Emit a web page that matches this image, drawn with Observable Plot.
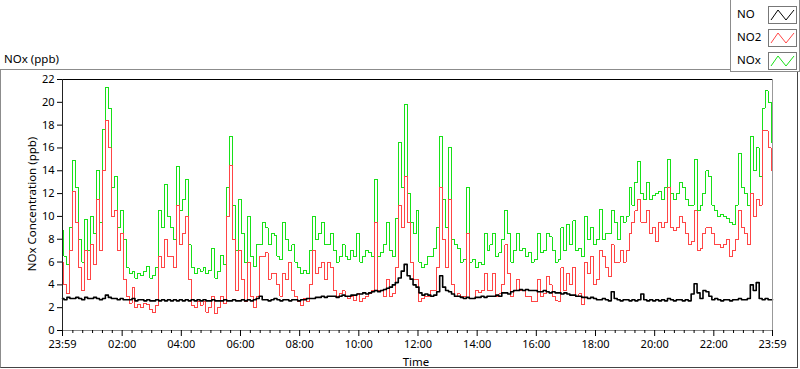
<!DOCTYPE html>
<html>
<head>
<meta charset="utf-8">
<script src="https://cdn.jsdelivr.net/npm/d3@7"></script>
<script src="https://cdn.jsdelivr.net/npm/@observablehq/plot@0.6"></script>
<style>
  body { margin: 0; background: #fff; font-family: "Noto Sans", sans-serif; color: #000; }
  #wrap { position: relative; width: 800px; height: 369px; overflow: hidden; background: #fff; }
  #frame { position: absolute; left: 0; top: 69px; width: 796px; height: 297px;
           border-top: 1px solid #8c8c8c; border-left: 1px solid #8c8c8c;
           border-right: 1px solid #444; border-bottom: 1px solid #444; }
  #chart { position: absolute; left: 0; top: 0; }
  #title { position: absolute; left: 4px; top: 51px; font-size: 11.5px; line-height: 16px; white-space: nowrap; }
  #ylab { position: absolute; left: 31px; top: 204px; font-size: 11.5px; white-space: nowrap;
          transform: translate(-50%, -50%) rotate(-90deg); }
  #xlab { position: absolute; left: 416px; top: 361px; font-size: 11.5px; white-space: nowrap;
          transform: translate(-50%, -50%); }
  #legend { position: absolute; left: 730px; top: 0; width: 68px; height: 71px; background: #fff;
            border: 1px solid #8c8c8c; border-top: none; }
  .lg { position: absolute; left: 6px; font-size: 11.5px; line-height: 14px; }
  .sw { position: absolute; left: 37px; width: 27px; height: 16px; border: 1px solid #777; background: #fff; }
  .sw svg { display: block; }
</style>
</head>
<body>
<div id="wrap">
  <div id="frame"></div>
  <div id="chart"></div>
  <div id="title">NOx (ppb)</div>
  <div id="ylab">NOx Concentration (ppb)</div>
  <div id="xlab">Time</div>
  <div id="legend"></div>
</div>
<script>
// ---- data (sampled every 6 minutes, starting 23:59 of previous day) ----
const seriesNames = ["NO", "NO2", "NOx"];
const seriesColors = ["#000000", "#ff4545", "#18e018"];

const noxValues = [
  8.8, 6.5, 5.8, 9.0, 14.9, 12.5, 8.0, 6.0, 9.7, 7.0,
  10.0, 8.5, 14.0, 9.5, 17.6, 21.3, 19.5, 12.5, 13.5, 9.0,
  10.5, 8.0, 5.5, 5.0, 5.2, 4.6, 5.0, 4.8, 5.2, 5.6,
  4.6, 4.8, 5.5, 10.5, 9.0, 12.8, 10.0, 9.0, 8.0, 14.4,
  10.5, 11.5, 13.2, 7.5, 5.5, 5.0, 5.4, 5.2, 5.5, 5.0,
  5.3, 7.2, 4.6, 5.2, 6.6, 5.8, 12.5, 17.0, 11.0, 7.0,
  11.5, 8.5, 6.0, 10.0, 6.5, 5.6, 7.5, 7.5, 9.5, 9.0,
  7.5, 8.5, 8.3, 6.5, 6.2, 9.5, 8.0, 7.0, 7.5, 6.0,
  5.5, 5.0, 5.3, 5.0, 7.0, 10.0, 8.0, 8.5, 9.5, 7.5,
  7.5, 8.5, 7.0, 6.0, 6.5, 7.5, 6.5, 6.2, 7.0, 6.5,
  8.5, 6.0, 6.5, 7.0, 6.8, 6.5, 13.2, 6.5, 6.8, 7.5,
  9.5, 7.0, 6.5, 9.8, 16.5, 12.5, 19.8, 12.0, 9.5, 8.5,
  10.5, 6.0, 5.5, 5.8, 6.5, 6.5, 7.2, 9.0, 17.0, 11.5,
  9.0, 16.0, 8.0, 7.5, 7.2, 6.0, 6.2, 12.5, 6.0, 6.2,
  5.5, 6.0, 5.8, 8.5, 7.0, 7.5, 8.5, 6.5, 6.8, 8.0,
  10.5, 8.5, 6.0, 7.0, 8.5, 7.0, 7.2, 6.5, 6.8, 6.0,
  6.2, 8.5, 6.8, 7.0, 8.5, 8.2, 7.0, 6.0, 6.2, 9.0,
  7.0, 9.3, 7.5, 9.6, 7.0, 7.2, 6.5, 10.0, 8.0, 9.0,
  7.5, 8.0, 10.6, 8.0, 8.5, 8.5, 10.5, 9.5, 8.0, 10.0,
  9.5, 10.0, 12.5, 11.0, 13.0, 14.8, 12.0, 11.5, 13.0, 11.5,
  11.8, 12.0, 12.2, 11.5, 12.5, 15.0, 12.0, 11.5, 12.0, 13.0,
  12.5, 11.5, 11.0, 11.0, 15.0, 10.5, 11.0, 12.0, 14.0, 13.5,
  11.0, 10.5, 10.0, 10.2, 10.0, 9.8, 9.5, 9.3, 11.0, 15.5,
  12.5, 12.0, 11.0, 17.0, 14.0, 16.0, 13.5, 19.5, 21.0, 20.0, 16.5
];

const no2Values = [
  6.0, 4.0, 3.2, 7.0, 12.2, 9.5, 5.5, 3.5, 7.0, 4.5,
  7.5, 5.8, 11.5, 7.0, 14.0, 18.4, 16.0, 10.0, 10.5, 7.0,
  8.5, 4.5, 3.0, 2.4, 3.8, 2.0, 2.3, 2.0, 2.4, 2.3,
  1.8, 1.6, 2.2, 6.5, 5.5, 8.0, 6.5, 6.5, 5.5, 11.0,
  7.5, 8.5, 10.0, 4.5, 2.2, 2.0, 2.5, 2.2, 2.5, 1.6,
  2.0, 3.0, 1.5, 2.0, 3.0, 2.4, 10.0, 14.5, 8.0, 3.5,
  7.0, 4.5, 2.5, 6.0, 3.0, 2.0, 3.0, 6.5, 6.5, 6.8,
  4.5, 5.0, 5.0, 4.0, 3.0, 5.0, 4.5, 6.0, 3.5, 3.0,
  2.5, 2.2, 2.8, 2.5, 4.0, 7.0, 5.0, 5.5, 6.0, 4.5,
  6.0, 5.5, 3.5, 3.0, 3.2, 3.5, 3.0, 2.8, 3.0, 2.6,
  3.2, 2.5, 2.8, 3.0, 3.2, 3.5, 9.5, 3.5, 3.5, 3.0,
  4.5, 3.0, 3.2, 5.5, 11.0, 9.0, 13.5, 9.5, 6.0, 4.5,
  4.5, 2.5, 2.8, 3.0, 3.0, 3.5, 3.5, 5.5, 12.5, 8.0,
  5.5, 11.5, 4.0, 3.0, 3.2, 3.0, 3.0, 8.5, 2.8, 2.8,
  3.5, 3.3, 3.5, 5.0, 3.5, 3.5, 5.0, 3.0, 3.2, 4.0,
  7.5, 5.0, 3.0, 3.5, 4.5, 3.5, 3.5, 3.0, 3.0, 2.5,
  2.5, 4.5, 3.0, 3.2, 4.7, 4.0, 3.0, 2.6, 2.5, 5.5,
  3.5, 5.0, 4.0, 5.5, 3.0, 3.2, 2.3, 6.0, 5.0, 6.5,
  4.0, 4.5, 7.0, 6.5, 5.5, 4.7, 7.5, 6.0, 6.0, 7.0,
  6.0, 7.0, 8.5, 9.5, 10.5, 11.5, 9.5, 9.5, 10.5, 8.5,
  9.0, 7.8, 9.5, 9.0, 9.5, 12.5, 9.0, 8.8, 9.0, 10.0,
  9.5, 8.5, 7.5, 7.8, 10.5, 7.0, 7.2, 8.5, 9.0, 9.0,
  8.5, 7.5, 7.5, 7.3, 7.5, 8.0, 6.5, 7.0, 8.0, 10.5,
  9.0, 8.5, 7.5, 12.0, 10.0, 11.5, 11.0, 17.5, 17.5, 16.0, 14.0
];

const noValues = [
  2.8, 2.7, 2.9, 2.8, 2.8, 2.9, 2.8, 2.7, 2.9, 2.8,
  2.8, 2.9, 2.8, 2.7, 2.8, 3.1, 2.9, 2.8, 2.8, 2.7,
  2.8, 2.7, 2.7, 2.7, 2.8, 2.6, 2.7, 2.7, 2.6, 2.7,
  2.6, 2.6, 2.7, 2.6, 2.7, 2.6, 2.7, 2.6, 2.7, 2.6,
  2.7, 2.6, 2.7, 2.6, 2.7, 2.6, 2.7, 2.6, 2.7, 2.6,
  2.6, 2.7, 2.6, 2.6, 2.6, 2.7, 2.6, 2.6, 2.7, 2.6,
  2.6, 2.7, 2.6, 2.7, 2.6, 2.7, 2.8, 3.0, 2.7, 2.7,
  2.6, 2.7, 2.8, 2.7, 2.6, 2.7, 2.7, 2.6, 2.7, 2.7,
  2.6, 2.7, 2.7, 2.8, 2.8, 2.8, 2.9, 2.9, 3.0, 2.9,
  3.0, 3.0, 3.0, 2.9, 3.0, 3.1, 3.0, 3.0, 3.1, 3.1,
  3.2, 3.2, 3.3, 3.2, 3.3, 3.4, 3.5, 3.4, 3.5, 3.6,
  3.7, 3.8, 4.0, 4.2, 4.6, 5.2, 5.8, 4.8, 4.5, 4.0,
  3.8, 3.3, 3.1, 3.2, 3.1, 3.0, 3.1, 3.4, 4.8, 3.8,
  3.5, 3.4, 3.2, 3.0, 3.0, 2.9, 2.8, 2.9, 2.8, 2.8,
  2.9, 2.9, 3.0, 2.9, 3.0, 3.0, 3.0, 3.1, 3.0, 3.3,
  3.3, 3.2, 3.4, 3.5, 3.5, 3.6, 3.5, 3.6, 3.5, 3.5,
  3.5, 3.4, 3.4, 3.5, 3.4, 3.3, 3.4, 3.3, 3.3, 3.2,
  3.3, 3.2, 3.1, 3.1, 3.0, 3.0, 2.9, 2.9, 2.8, 2.9,
  2.8, 2.7, 2.7, 2.8, 2.7, 2.6, 3.4, 2.8, 2.7, 2.6,
  2.7, 2.7, 2.6, 2.7, 2.6, 2.7, 3.2, 2.7, 2.6, 2.7,
  2.6, 2.7, 2.6, 2.7, 2.6, 2.8, 2.7, 2.6, 2.7, 2.7,
  2.6, 2.7, 2.6, 3.2, 4.1, 3.3, 2.8, 3.5, 3.4, 3.0,
  2.7, 2.8, 2.7, 2.6, 2.7, 2.7, 2.6, 2.7, 2.7, 2.8,
  2.7, 2.7, 2.8, 4.0, 3.5, 4.2, 2.8, 2.7, 2.8, 2.7, 2.7
];

// axis ticks (minutes after 23:59)
const majorTicks = [0, 121, 241, 361, 481, 601, 721, 841, 961, 1081, 1201, 1321, 1440];
const majorLabels = ["23:59", "02:00", "04:00", "06:00", "08:00", "10:00", "12:00",
                     "14:00", "16:00", "18:00", "20:00", "22:00", "23:59"];
const minorTicks = [21, 41, 61, 81, 101, 141, 161, 181, 201, 221, 261, 281, 301, 321, 341,
  381, 401, 421, 441, 461, 501, 521, 541, 561, 581, 621, 641, 661, 681, 701,
  741, 761, 781, 801, 821, 861, 881, 901, 921, 941, 981, 1001, 1021, 1041, 1061,
  1101, 1121, 1141, 1161, 1181, 1221, 1241, 1261, 1281, 1301, 1341, 1361, 1381, 1401, 1421];
const yTicks = [0, 2, 4, 6, 8, 10, 12, 14, 16, 18, 20, 22];

const sampleStep = 6;
const toRows = vals => vals.map((v, i) => ({t: i * sampleStep, v}));
const labelOf = new Map(majorTicks.map((t, i) => [t, majorLabels[i]]));

const chart = Plot.plot({
  width: 800,
  height: 369,
  marginLeft: 62,
  marginRight: 28,
  marginTop: 79,
  marginBottom: 39,
  x: {domain: [0, 1440]},
  y: {domain: [0, 22]},
  style: {background: "transparent", fontFamily: "'Noto Sans', sans-serif", fontSize: "11px", color: "#000"},
  marks: [
    Plot.lineY(toRows(noxValues), {x: "t", y: "v", stroke: seriesColors[2], strokeWidth: 1, curve: "step", shapeRendering: "crispEdges"}),
    Plot.lineY(toRows(no2Values), {x: "t", y: "v", stroke: seriesColors[1], strokeWidth: 1, curve: "step", shapeRendering: "crispEdges"}),
    Plot.lineY(toRows(noValues), {x: "t", y: "v", stroke: seriesColors[0], strokeWidth: 1.6, curve: "step"}),
    Plot.ruleY([22], {stroke: "#000"}),
    Plot.ruleX([0], {stroke: "#222"}),
    Plot.ruleX([1440], {stroke: "#999"}),
    Plot.ruleY([0], {stroke: "#888"}),
    Plot.axisY({ticks: yTicks, tickSize: 5, tickPadding: 3, label: null}),
    Plot.axisX({ticks: minorTicks, tickSize: 3, tickFormat: () => "", label: null}),
    Plot.axisX({ticks: majorTicks, tickSize: 6, tickPadding: 4, tickFormat: d => labelOf.get(d), label: null})
  ]
});
document.getElementById("chart").appendChild(chart);

// legend
const legend = document.getElementById("legend");
const legendTops = [6, 29, 52];
seriesNames.forEach((name, i) => {
  const lab = document.createElement("div");
  lab.className = "lg";
  lab.style.top = (legendTops[i] + 1) + "px";
  lab.textContent = name;
  legend.appendChild(lab);
  const sw = document.createElement("div");
  sw.className = "sw";
  sw.style.top = legendTops[i] + "px";
  sw.innerHTML = `<svg width="27" height="16"><polyline points="2,13 9,3 17,13 25,3" fill="none" stroke="${seriesColors[i]}" stroke-width="1"/></svg>`;
  legend.appendChild(sw);
});
</script>
</body>
</html>
